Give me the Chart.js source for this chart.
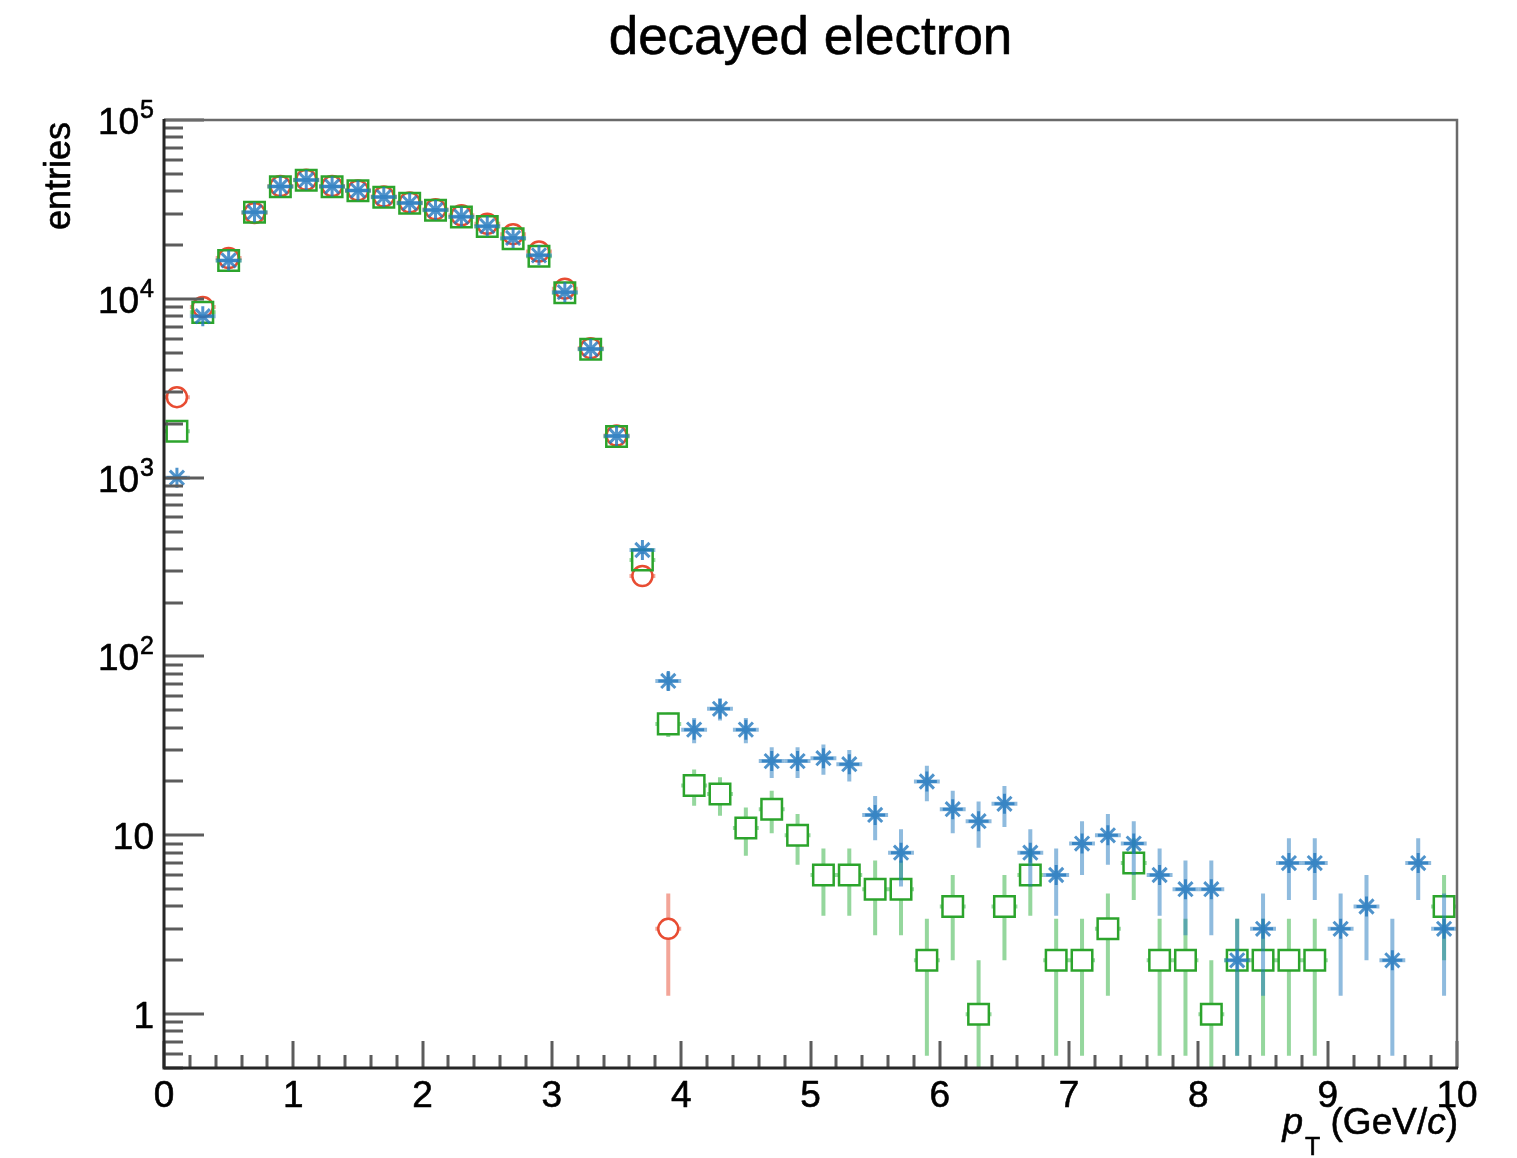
<!DOCTYPE html>
<html>
<head>
<meta charset="utf-8">
<title>decayed electron</title>
<script src="https://cdn.jsdelivr.net/npm/chart.js@4/dist/chart.umd.min.js"></script>
<style>
  html, body { margin: 0; padding: 0; background: #ffffff; }
  canvas { display: block; }
</style>
</head>
<body>
<canvas id="chart" width="1517" height="1158"></canvas>
<script>
// Bin centres of the pT histogram (0.2 GeV/c bins from 0 to 10)
const binCenters = [
  0.1, 0.3, 0.5, 0.7, 0.9, 1.1, 1.3, 1.5, 1.7, 1.9,
  2.1, 2.3, 2.5, 2.7, 2.9, 3.1, 3.3, 3.5, 3.7, 3.9,
  4.1, 4.3, 4.5, 4.7, 4.9, 5.1, 5.3, 5.5, 5.7, 5.9,
  6.1, 6.3, 6.5, 6.7, 6.9, 7.1, 7.3, 7.5, 7.7, 7.9,
  8.1, 8.3, 8.5, 8.7, 8.9, 9.1, 9.3, 9.5, 9.7, 9.9
];
const binWidth = 0.2;

// Entries per bin (null = empty bin)
const starCounts = [
  1000, 8000, 16400, 30500, 42500, 46200, 42500, 40300, 37100, 34300,
  31400, 28800, 25500, 21900, 17500, 10900, 5240, 1710, 394, 73,
  39, 51, 39, 26, 26, 27, 25, 13, 8, 20,
  14, 12, 15, 8, 6, 9, 10, 9, 6, 5,
  5, 2, 3, 7, 7, 3, 4, 2, 7, 3
];
const squareCounts = [
  1820, 8400, 16400, 30500, 42400, 46100, 42400, 40200, 37000, 34200,
  31300, 28700, 25400, 21700, 17300, 10800, 5230, 1700, 346, 42,
  19, 17, 11, 14, 10, 6, 6, 5, 5, 2,
  4, 1, 4, 6, 2, 2, 3, 7, 2, 2,
  1, 2, 2, 2, 2, null, null, null, null, 4
];
const circleCounts = [
  2820, 9000, 16900, 30200, 42700, 46300, 42700, 40400, 37300, 34600,
  31700, 29300, 26300, 23000, 18400, 11400, 5300, 1720, 282, 3,
  null, null, null, null, null, null, null, null, null, null,
  null, null, null, null, null, null, null, null, null, null,
  null, null, null, null, null, null, null, null, null, null
];

// Axis tick labels
const xTickValues = [0, 1, 2, 3, 4, 5, 6, 7, 8, 9, 10];
const xTickLabels = ['0', '1', '2', '3', '4', '5', '6', '7', '8', '9', '10'];
const yTickValues = [1, 10, 100, 1000, 10000, 100000];
const yTickBases = ['1', '10', '10', '10', '10', '10'];
const yTickExponents = ['', '', '2', '3', '4', '5'];

const Y_MIN = 0.5, Y_MAX = 1e5;
const FONT = '"Liberation Sans", Arial, Helvetica, sans-serif';

function toPoints(counts) {
  return binCenters
    .map((x, i) => ({ x: x, y: counts[i] }))
    .filter(p => p.y !== null && p.y > 0);
}

// Text with a hairline outline so the glyphs read slightly heavier
function drawText(ctx, text, x, y) {
  ctx.fillText(text, x, y);
  ctx.strokeText(text, x, y);
}

// Poisson error bars (sqrt N) plus bin-width horizontal bars, drawn under each dataset's markers
const errorBarPlugin = {
  id: 'errorBars',
  beforeDatasetDraw(chart, args) {
    const ds = chart.data.datasets[args.index];
    const xs = chart.scales.x, ys = chart.scales.y;
    const ctx = chart.ctx, area = chart.chartArea;
    const gap = ds.errorGap;
    ctx.save();
    ctx.beginPath();
    ctx.rect(area.left, area.top, area.right - area.left, area.bottom - area.top);
    ctx.clip();
    ctx.strokeStyle = ds.errorColor;
    ctx.lineWidth = 4;
    ctx.lineCap = 'butt';
    ds.data.forEach(p => {
      const cx = xs.getPixelForValue(p.x);
      const cy = ys.getPixelForValue(p.y);
      const e = Math.sqrt(p.y);
      const yHi = ys.getPixelForValue(p.y + e);
      const yLo = ys.getPixelForValue(Math.max(p.y - e, Y_MIN));
      const xL = xs.getPixelForValue(p.x - binWidth / 2);
      const xR = xs.getPixelForValue(p.x + binWidth / 2);
      ctx.beginPath();
      if (cy - gap > yHi) { ctx.moveTo(cx, yHi); ctx.lineTo(cx, cy - gap); }
      if (yLo > cy + gap) { ctx.moveTo(cx, cy + gap); ctx.lineTo(cx, yLo); }
      if (cx - gap > xL) { ctx.moveTo(xL, cy); ctx.lineTo(cx - gap, cy); }
      if (xR > cx + gap) { ctx.moveTo(cx + gap, cy); ctx.lineTo(xR, cy); }
      ctx.stroke();
    });
    ctx.restore();
  }
};

// Frame, inward ticks, tick labels and titles
const framePlugin = {
  id: 'frame',
  afterDraw(chart) {
    const ctx = chart.ctx, a = chart.chartArea;
    const xs = chart.scales.x, ys = chart.scales.y;
    ctx.save();

    // ticks
    ctx.strokeStyle = '#5c5c5c';
    ctx.lineWidth = 3;
    ctx.beginPath();
    for (let k = -1; k <= 5; k++) {
      for (let m = 1; m <= 9; m++) {
        const v = m * Math.pow(10, k);
        if (v < Y_MIN - 1e-9 || v > Y_MAX + 1e-9) continue;
        const py = Math.round(ys.getPixelForValue(v));
        const len = (m === 1) ? 40 : 19;
        ctx.moveTo(a.left, py); ctx.lineTo(a.left + len, py);
      }
    }
    for (let i = 0; i <= 50; i++) {
      const v = i * 0.2;
      const px = Math.round(xs.getPixelForValue(v));
      const len = (i % 5 === 0) ? 27 : 13;
      ctx.moveTo(px, a.bottom); ctx.lineTo(px, a.bottom - len);
    }
    ctx.stroke();

    // top and right frame
    ctx.strokeStyle = '#6a6a6a';
    ctx.lineWidth = 2.5;
    ctx.beginPath();
    ctx.moveTo(a.left, a.top); ctx.lineTo(a.right, a.top); ctx.lineTo(a.right, a.bottom);
    ctx.stroke();

    // axis lines
    ctx.strokeStyle = '#262626';
    ctx.lineWidth = 3;
    ctx.beginPath();
    ctx.moveTo(a.left, a.top - 1); ctx.lineTo(a.left, a.bottom); ctx.lineTo(a.right + 1, a.bottom);
    ctx.stroke();

    ctx.fillStyle = '#000000';
    ctx.strokeStyle = '#000000';
    ctx.lineWidth = 0.6;
    ctx.lineJoin = 'round';

    // y tick labels (powers of ten)
    ctx.textBaseline = 'alphabetic';
    yTickValues.forEach((v, i) => {
      const py = ys.getPixelForValue(v);
      let x = 154;
      if (yTickExponents[i]) {
        ctx.font = '25px ' + FONT;
        ctx.textAlign = 'right';
        drawText(ctx, yTickExponents[i], x, py - 2);
        x -= ctx.measureText(yTickExponents[i]).width + 1;
      }
      ctx.font = '37px ' + FONT;
      ctx.textAlign = 'right';
      drawText(ctx, yTickBases[i], x, py + 14);
    });

    // x tick labels
    ctx.font = '37px ' + FONT;
    ctx.textAlign = 'center';
    xTickValues.forEach((v, i) => {
      drawText(ctx, xTickLabels[i], xs.getPixelForValue(v), 1107);
    });

    // title
    ctx.font = '53px ' + FONT;
    ctx.textAlign = 'center';
    drawText(ctx, 'decayed electron', (a.left + a.right) / 2, 54);

    // y axis title
    ctx.save();
    ctx.translate(70, a.top + 2);
    ctx.rotate(-Math.PI / 2);
    ctx.font = '36px ' + FONT;
    ctx.textAlign = 'right';
    drawText(ctx, 'entries', 0, 0);
    ctx.restore();

    // x axis title: p_T (GeV/c), right-aligned to the axis end
    const base = 1134;
    const pieces = [
      { t: ')', f: '37px ' + FONT, dy: 0 },
      { t: 'c', f: 'italic 37px ' + FONT, dy: 0 },
      { t: ' (GeV/', f: '37px ' + FONT, dy: 0 },
      { t: 'T', f: '25px ' + FONT, dy: 21 },
      { t: 'p', f: 'italic 37px ' + FONT, dy: 0 }
    ];
    let xr = a.right + 1;
    ctx.textAlign = 'right';
    pieces.forEach(pc => {
      ctx.font = pc.f;
      drawText(ctx, pc.t, xr, base + pc.dy);
      xr -= ctx.measureText(pc.t).width + (pc.t === 'T' ? 2 : 0);
    });

    ctx.restore();
  }
};

const chart = new Chart(document.getElementById('chart'), {
  type: 'scatter',
  data: {
    datasets: [
      {
        label: 'stars',
        data: toPoints(starCounts),
        pointStyle: 'star',
        pointRadius: 10,
        pointBorderWidth: 3,
        pointBorderColor: 'rgba(35,120,190,0.8)',
        pointBackgroundColor: 'rgba(0,0,0,0)',
        errorColor: 'rgba(31,119,190,0.5)',
        errorGap: 0
      },
      {
        label: 'squares',
        data: toPoints(squareCounts),
        pointStyle: 'rect',
        pointRadius: 14.5,
        pointBorderWidth: 2.5,
        pointBorderColor: '#2ca42c',
        pointBackgroundColor: 'rgba(0,0,0,0)',
        errorColor: 'rgba(44,175,60,0.5)',
        errorGap: 10
      },
      {
        label: 'circles',
        data: toPoints(circleCounts),
        pointStyle: 'circle',
        pointRadius: 10,
        pointBorderWidth: 2.5,
        pointBorderColor: '#e84c32',
        pointBackgroundColor: 'rgba(0,0,0,0)',
        errorColor: 'rgba(232,76,50,0.5)',
        errorGap: 10
      }
    ]
  },
  options: {
    responsive: false,
    animation: false,
    devicePixelRatio: 1,
    layout: { padding: { left: 164, right: 60, top: 120, bottom: 90 } },
    plugins: { legend: { display: false }, tooltip: { enabled: false } },
    elements: { point: { hoverRadius: 10 } },
    scales: {
      x: { type: 'linear', min: 0, max: 10, display: false },
      y: { type: 'logarithmic', min: Y_MIN, max: Y_MAX, display: false }
    }
  },
  plugins: [errorBarPlugin, framePlugin]
});
</script>
</body>
</html>
